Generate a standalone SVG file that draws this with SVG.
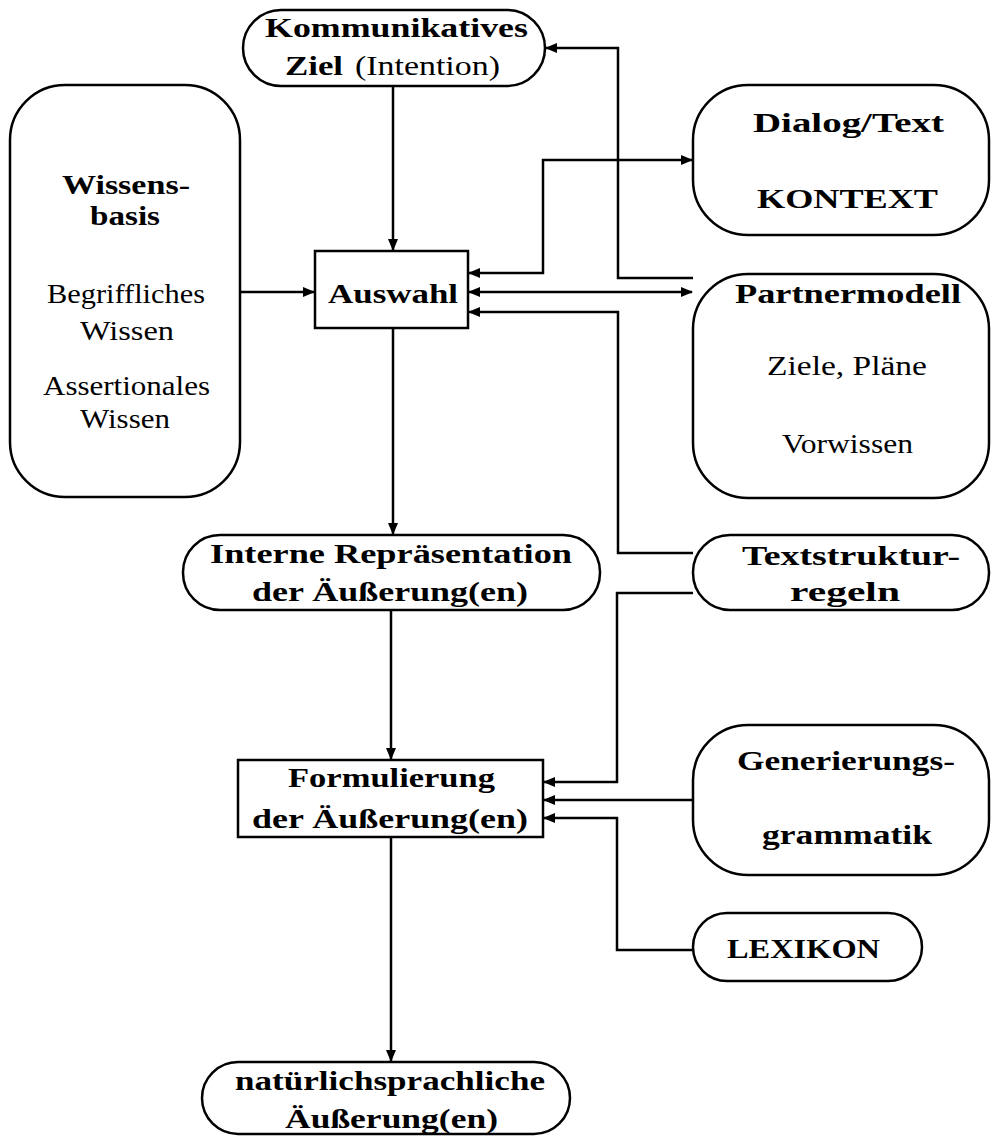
<svg xmlns="http://www.w3.org/2000/svg" width="992" height="1137" viewBox="0 0 992 1137">
<style>
.n{fill:#fff;stroke:#000;stroke-width:2.5}
.c{fill:none;stroke:#000;stroke-width:2.5}
.b{font-family:"Liberation Serif","DejaVu Serif",serif;font-weight:bold;font-size:28px;fill:#000}
.r{font-family:"Liberation Serif","DejaVu Serif",serif;font-size:28px;fill:#000}
</style>
<defs>
<marker id="ah" markerUnits="userSpaceOnUse" markerWidth="12" markerHeight="10" refX="11" refY="5" orient="auto-start-reverse" viewBox="0 0 12 10">
<path d="M0,0 L12,5 L0,10 z" fill="#000"/>
</marker>
</defs>
<rect width="992" height="1137" fill="#fff"/>
<g id="connectors">
<path class="c" d="M393,86 V250" marker-end="url(#ah)"/>
<path class="c" d="M240,292 H314" marker-end="url(#ah)"/>
<path class="c" d="M693,278 H618 V48 H546" marker-end="url(#ah)"/>
<path class="c" d="M469,273 H543 V160 H692" marker-start="url(#ah)" marker-end="url(#ah)"/>
<path class="c" d="M469,292 H692" marker-start="url(#ah)" marker-end="url(#ah)"/>
<path class="c" d="M693,553 H618 V312 H469" marker-end="url(#ah)"/>
<path class="c" d="M393,328 V534" marker-end="url(#ah)"/>
<path class="c" d="M391,610 V759" marker-end="url(#ah)"/>
<path class="c" d="M693,593 H617 V782 H544" marker-end="url(#ah)"/>
<path class="c" d="M693,800 H544" marker-end="url(#ah)"/>
<path class="c" d="M693,950 H617 V818 H544" marker-end="url(#ah)"/>
<path class="c" d="M391,837 V1061" marker-end="url(#ah)"/>
</g>
<g id="ziel">
<rect class="n" x="243" y="10" width="302" height="76" rx="38"/>
<text class="b" x="265" y="37" textLength="263" lengthAdjust="spacingAndGlyphs">Kommunikatives</text>
<text class="b" x="285" y="75" textLength="58" lengthAdjust="spacingAndGlyphs">Ziel</text>
<text class="r" x="355" y="75" textLength="145" lengthAdjust="spacingAndGlyphs">(Intention)</text>
</g>
<g id="wissensbasis">
<rect class="n" x="10" y="85" width="230" height="412" rx="55"/>
<text class="b" x="62" y="194" textLength="128" lengthAdjust="spacingAndGlyphs">Wissens-</text>
<text class="b" x="90" y="225" textLength="70" lengthAdjust="spacingAndGlyphs">basis</text>
<text class="r" x="47" y="303" textLength="158" lengthAdjust="spacingAndGlyphs">Begriffliches</text>
<text class="r" x="80" y="340" textLength="94" lengthAdjust="spacingAndGlyphs">Wissen</text>
<text class="r" x="43" y="395" textLength="167" lengthAdjust="spacingAndGlyphs">Assertionales</text>
<text class="r" x="80" y="428" textLength="90" lengthAdjust="spacingAndGlyphs">Wissen</text>
</g>
<g id="auswahl">
<rect class="n" x="315" y="251" width="153" height="77"/>
<text class="b" x="328" y="303" textLength="130" lengthAdjust="spacingAndGlyphs">Auswahl</text>
</g>
<g id="kontext">
<rect class="n" x="693" y="85" width="296" height="150" rx="55"/>
<text class="b" x="753" y="132" textLength="191" lengthAdjust="spacingAndGlyphs">Dialog/Text</text>
<text class="b" x="757" y="208" textLength="181" lengthAdjust="spacingAndGlyphs">KONTEXT</text>
</g>
<g id="partnermodell">
<rect class="n" x="693" y="274" width="296" height="224" rx="55"/>
<text class="b" x="735" y="303" textLength="226" lengthAdjust="spacingAndGlyphs">Partnermodell</text>
<text class="r" x="767" y="375" textLength="160" lengthAdjust="spacingAndGlyphs">Ziele, Pläne</text>
<text class="r" x="782" y="453" textLength="131" lengthAdjust="spacingAndGlyphs">Vorwissen</text>
</g>
<g id="interne">
<rect class="n" x="183" y="535" width="417" height="75" rx="37"/>
<text class="b" x="210" y="563" textLength="362" lengthAdjust="spacingAndGlyphs">Interne Repräsentation</text>
<text class="b" x="252" y="601" textLength="276" lengthAdjust="spacingAndGlyphs">der Äußerung(en)</text>
</g>
<g id="textstruktur">
<rect class="n" x="693" y="535" width="296" height="75" rx="37"/>
<text class="b" x="742" y="565" textLength="218" lengthAdjust="spacingAndGlyphs">Textstruktur-</text>
<text class="b" x="790" y="601" textLength="110" lengthAdjust="spacingAndGlyphs">regeln</text>
</g>
<g id="formulierung">
<rect class="n" x="238" y="760" width="305" height="77"/>
<text class="b" x="288" y="787" textLength="207" lengthAdjust="spacingAndGlyphs">Formulierung</text>
<text class="b" x="252" y="828" textLength="276" lengthAdjust="spacingAndGlyphs">der Äußerung(en)</text>
</g>
<g id="generierung">
<rect class="n" x="693" y="725" width="296" height="150" rx="55"/>
<text class="b" x="737" y="770" textLength="218" lengthAdjust="spacingAndGlyphs">Generierungs-</text>
<text class="b" x="762" y="844" textLength="170" lengthAdjust="spacingAndGlyphs">grammatik</text>
</g>
<g id="lexikon">
<rect class="n" x="693" y="913" width="229" height="68" rx="34"/>
<text class="b" x="727" y="958" textLength="153" lengthAdjust="spacingAndGlyphs">LEXIKON</text>
</g>
<g id="natuerlich">
<rect class="n" x="202" y="1062" width="368" height="72" rx="36"/>
<text class="b" x="235" y="1090" textLength="310" lengthAdjust="spacingAndGlyphs">natürlichsprachliche</text>
<text class="b" x="285" y="1128" textLength="213" lengthAdjust="spacingAndGlyphs">Äußerung(en)</text>
</g>
</svg>
